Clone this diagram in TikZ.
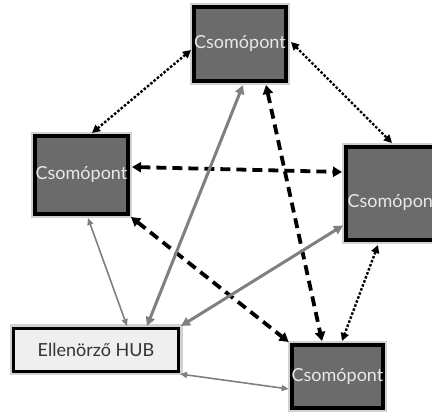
\documentclass[tikz,border=0pt]{standalone}
\usepackage{fontspec}
\setmainfont{Lato}
\usetikzlibrary{arrows.meta,calc}
\definecolor{nodefill}{HTML}{6B6B6B}
\definecolor{nodetext}{HTML}{E8E8E8}
\definecolor{hubfill}{HTML}{EFEFEF}
\definecolor{linkgray}{HTML}{808080}
\begin{document}
\begin{tikzpicture}[x=1pt,y=-1pt,
  halo/.style={preaction={draw=black!18,line width=8pt}},
  csnode/.style={halo,draw=black,line width=4pt,fill=nodefill,text=nodetext,
    inner sep=0pt,font=\fontsize{18}{21}\selectfont},
  hubnode/.style={halo,draw=black,line width=3pt,fill=hubfill,text=black!80,
    inner sep=0pt,font=\fontsize{18}{21}\selectfont},
  dotlink/.style={draw=black,line width=2.4pt,dash pattern=on 2.5pt off 1.8pt,
    {Triangle[length=8pt,width=8pt]}-{Triangle[length=8pt,width=8pt]}},
  dashlink/.style={draw=black,line width=3.8pt,dash pattern=on 10pt off 6pt,
    {Triangle[length=9pt,width=10pt]}-{Triangle[length=9pt,width=10pt]}},
  thicklink/.style={draw=linkgray,line width=3pt,
    {Triangle[length=9pt,width=9pt]}-{Triangle[length=9pt,width=9pt]}},
  thinlink/.style={draw=linkgray,line width=1.6pt,
    {Triangle[length=7pt,width=6pt]}-{Triangle[length=7pt,width=6pt]}}]
\useasboundingbox (0,0) rectangle (432,414);
\clip (0,0) rectangle (432,414);
\fill[white] (0,0) rectangle (432,414);
% nodes
\node[csnode,minimum width=92pt,minimum height=74pt] (top) at (240,44) {Csomópont};
\node[csnode,minimum width=93pt,minimum height=78pt] (left) at (81.5,175) {Csomópont};
\node[csnode,minimum width=92pt,minimum height=93pt] (right) at (392,193.5) {};
\node[text=nodetext,font=\fontsize{18}{21}\selectfont,inner sep=0pt] (rlabel) at (393.5,203) {Csomópont};
\node[csnode,minimum width=91pt,minimum height=63pt] (bottom) at (337.5,376.5) {Csomópont};
\node[hubnode,minimum width=165pt,minimum height=43pt] (hub) at (96,350) {Ellenörző HUB};
% dotted links
\draw[dotlink] ($(top.west)+(-1,6)$) -- ($(left.north)+(10.5,-1)$);
\draw[dotlink] ($(top.east)+(3,-2)$) -- ($(right.north)+(0,-2)$);
\draw[dotlink] ($(right.south)+(-14,3)$) -- ($(bottom.north)+(4.5,-2)$);
% dashed links
\draw[dashlink] ($(left.east)+(2,-8)$) -- ($(right.west)+(-2,-21.5)$);
\draw[dashlink] ($(left.south east)+(1,1)$) -- ($(bottom.north west)+(-1,-1)$);
\draw[dashlink] ($(top.south)+(26,2)$) -- ($(bottom.north)+(-15.5,-2)$);
% gray links
\draw[thicklink] ($(hub.north)+(51,-1)$) -- ($(top.south)+(3,2)$);
\draw[thicklink] ($(hub.north east)+(1,-1)$) -- ($(right.west)+(-1,32)$);
\draw[thinlink] ($(hub.north)+(31,-1)$) -- ($(left.south)+(6.5,2)$);
\draw[thinlink] ($(hub.south east)+(0,1)$) -- ($(bottom.west)+(-1,12.5)$);
\end{tikzpicture}
\end{document}
